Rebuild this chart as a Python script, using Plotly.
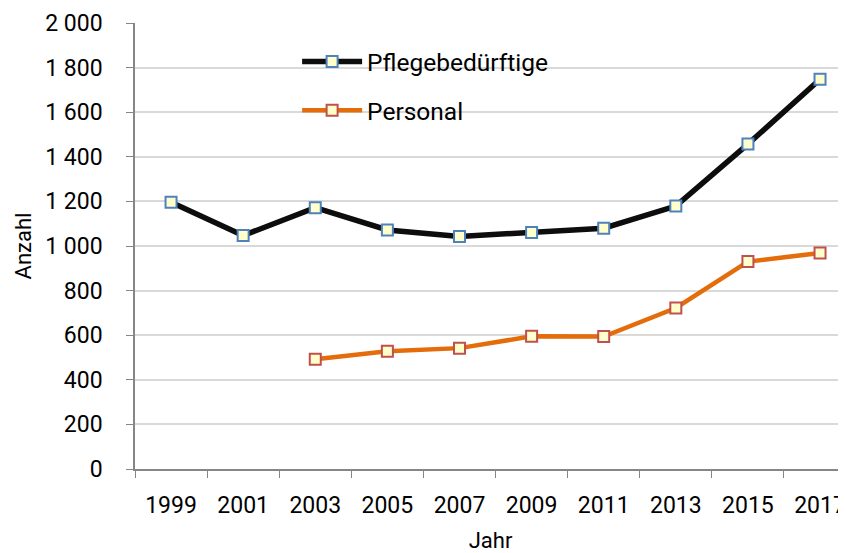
import plotly.graph_objects as go

# Jahre (Kategorien) und Werte
jahre = ['1999', '2001', '2003', '2005', '2007', '2009', '2011', '2013', '2015', '2017']
pflegebeduerftige = [1196, 1047, 1172, 1072, 1043, 1060, 1080, 1179, 1457, 1748]
personal = [None, None, 492, 528, 542, 595, 594, 722, 930, 969]

y_ticks = [0, 200, 400, 600, 800, 1000, 1200, 1400, 1600, 1800, 2000]

FONT = 'Roboto, Arial, sans-serif'

fig = go.Figure()

fig.add_trace(go.Scatter(
    x=jahre, y=pflegebeduerftige, name='Pflegebedürftige',
    mode='lines+markers', legendgroup='a',
    line=dict(color='#0d0d0d', width=5.5),
    marker=dict(symbol='square', size=11, color='#FFFFCC',
                line=dict(color='#4F81BD', width=2)),
))

fig.add_trace(go.Scatter(
    x=jahre, y=personal, name='Personal',
    mode='lines+markers', legendgroup='b',
    line=dict(color='#E46C0A', width=4.5),
    marker=dict(symbol='square', size=11, color='#FFFFCC',
                line=dict(color='#C0504D', width=2)),
))

# the page body adds 8px margin, so the figure is 8px smaller than the window
fig.update_layout(
    width=838, height=545,
    margin=dict(l=127, r=0, t=15, b=84),
    paper_bgcolor='white', plot_bgcolor='white',
    font=dict(family=FONT, size=23, color='#000000'),
    separators=', ',
    legend=dict(
        x=0.228, y=0.964, xanchor='left', yanchor='top',
        bgcolor='rgba(0,0,0,0)', tracegroupgap=14,
        font=dict(size=24.5), itemwidth=60,
    ),
    showlegend=True,
)

fig.update_xaxes(
    type='category', range=[-0.5, 9.36], automargin=False,
    showline=True, linecolor='#868686', linewidth=1.5,
    showgrid=False, ticks='outside', tickson='boundaries',
    ticklen=7, tickcolor='#868686', ticklabelstandoff=15,
    title=dict(text='Jahr', standoff=14, font=dict(size=22)),
)

fig.update_yaxes(
    range=[0, 2000], tickvals=y_ticks, tickformat=',d', automargin=False,
    showline=True, linecolor='#868686', linewidth=1.5,
    showgrid=True, gridcolor='#D9D9D9', gridwidth=1.5,
    ticks='outside', ticklen=7, tickcolor='#868686',
    ticklabelstandoff=19, zeroline=False,
    title=dict(text='Anzahl', standoff=8, font=dict(size=22)),
)

fig.write_html('out.html')
